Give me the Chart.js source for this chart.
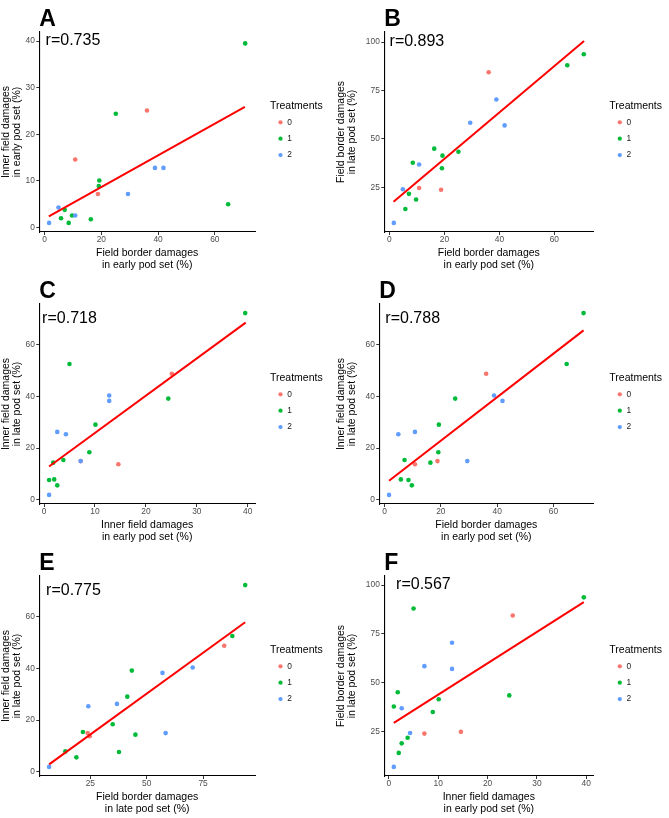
<!DOCTYPE html>
<html>
<head>
<meta charset="utf-8">
<script src="https://cdn.jsdelivr.net/npm/chart.js@4.4.1/dist/chart.umd.min.js"></script>
<style>
html,body{margin:0;padding:0;background:#ffffff;}
#wrap{position:relative;width:669px;height:818px;overflow:hidden;background:#ffffff;}
#wrap canvas{position:absolute;}
</style>
</head>
<body>
<div id="wrap"></div>
<script>
// ---------- DATA ----------
const treatment        = [0, 0, 0, 1, 1, 1, 1, 1, 1, 1, 1, 1, 1, 2, 2, 2, 2, 2, 2];
const fieldBorderEarly = [36.1, 10.8, 18.8, 70.7, 64.7, 25.1, 19.3, 19.1, 16.3, 7.1, 5.8, 8.5, 9.7, 38.9, 41.9, 29.4, 4.9, 10.8, 1.6];
const innerFieldEarly  = [25.1, 14.6, 7.2, 39.5, 5.0, 24.4, 10.1, 8.9, 1.8, 3.8, 2.0, 1.0, 2.6, 12.8, 12.8, 7.2, 4.3, 2.6, 1.0];
const fieldBorderLate  = [84.4, 24.7, 23.8, 93.7, 88.0, 43.4, 41.4, 34.9, 45.0, 21.7, 13.9, 37.7, 18.8, 70.4, 57.0, 58.4, 24.1, 36.8, 6.7];
const innerFieldLate   = [48.8, 13.8, 15.0, 72.3, 52.6, 39.2, 29.1, 18.4, 14.4, 15.4, 7.9, 7.7, 5.6, 40.4, 38.3, 15.0, 25.4, 26.3, 1.9];

const treatmentLevels = ['0', '1', '2'];
const panelLetters    = ['A', 'B', 'C', 'D', 'E', 'F'];
const correlations    = ['r=0.735', 'r=0.893', 'r=0.718', 'r=0.788', 'r=0.775', 'r=0.567'];
const labelPositions  = [[10, 40], [10, 100], [5, 70], [10, 70], [17.5, 70], [7, 100]];
const fitStart        = [[1.5, 2.4], [1.5, 17.6], [1.0, 12.9], [1.6, 7.4], [6.7, 2.9], [1.0, 29.3]];
const fitEnd          = [[70.6, 25.9], [70.8, 100.5], [39.6, 68.6], [70.7, 65.6], [93.7, 57.9], [39.5, 91.3]];
const xTicks          = [[0, 20, 40, 60], [0, 20, 40, 60], [0, 10, 20, 30, 40], [0, 20, 40, 60], [25, 50, 75], [0, 10, 20, 30, 40]];
const yTicks          = [[0, 10, 20, 30, 40], [25, 50, 75, 100], [0, 20, 40, 60], [0, 20, 40, 60], [0, 20, 40, 60], [25, 50, 75, 100]];
const xRanges         = [[-1.86, 74.16], [-1.86, 74.16], [-0.925, 41.425], [-1.86, 74.16], [2.35, 98.05], [-0.925, 41.425]];
const yRanges         = [[-0.95, 41.95], [2.01, 105.19], [-1.62, 75.82], [-1.62, 75.82], [-1.62, 75.82], [2.035, 104.665]];

const titleFBE = ['Field border damages', 'in early pod set (%)'];
const titleIFE = ['Inner field damages', 'in early pod set (%)'];
const titleFBL = ['Field border damages', 'in late pod set (%)'];
const titleIFL = ['Inner field damages', 'in late pod set (%)'];

// panel variable pairs
const panelVars = [
  [fieldBorderEarly, innerFieldEarly, titleFBE, titleIFE],
  [fieldBorderEarly, fieldBorderLate, titleFBE, titleFBL],
  [innerFieldEarly, innerFieldLate, titleIFE, titleIFL],
  [fieldBorderEarly, innerFieldLate, titleFBE, titleIFL],
  [fieldBorderLate, innerFieldLate, titleFBL, titleIFL],
  [innerFieldEarly, fieldBorderLate, titleIFE, titleFBL]
];

// ---------- LAYOUT / STYLE ----------
const colors = ['#F8766D', '#00BA38', '#619CFF'];
const FONT = '"Liberation Sans", Arial, Helvetica, sans-serif';
Chart.defaults.font.family = FONT;
Chart.defaults.color = '#000';

const panelLayout = [
  {left: 0,   top: 0,   w: 335, plotLeft: 39.3, plotRight: 255,   legendLeft: 270},
  {left: 335, top: 0,   w: 334, plotLeft: 49.3, plotRight: 258.3, legendLeft: 274.3},
  {left: 0,   top: 272, w: 335, plotLeft: 39.3, plotRight: 255,   legendLeft: 270},
  {left: 335, top: 272, w: 334, plotLeft: 44.3, plotRight: 258.3, legendLeft: 274.3},
  {left: 0,   top: 544, w: 335, plotLeft: 39.3, plotRight: 255,   legendLeft: 270},
  {left: 335, top: 544, w: 334, plotLeft: 49.3, plotRight: 258.3, legendLeft: 274.3}
];
const PANEL_H = 272, PLOT_TOP = 32, PLOT_BOTTOM = 232;
const LEGEND_W = 58;

// keeps the legend box wide enough for its title (the legend clips to its box)
const legendWidth = {
  id: 'legendWidth',
  beforeLayout(chart) {
    const lg = chart.legend;
    if (lg && !lg._fixedWidth) {
      const orig = lg.fit.bind(lg);
      lg.fit = function () { orig(); this.width = LEGEND_W; };
      lg._fixedWidth = true;
    }
  }
};

const panelText = {
  id: 'panelText',
  afterDatasetsDraw(chart, args, opts) {
    const ctx = chart.ctx;
    ctx.save();
    ctx.fillStyle = '#000';
    ctx.font = 'bold 23px ' + FONT;
    ctx.textAlign = 'left';
    ctx.textBaseline = 'alphabetic';
    ctx.fillText(opts.letter, chart.chartArea.left, 26);
    ctx.font = '16px ' + FONT;
    ctx.textAlign = 'center';
    ctx.textBaseline = 'middle';
    ctx.fillText(opts.label,
      chart.scales.x.getPixelForValue(opts.pos[0]),
      chart.scales.y.getPixelForValue(opts.pos[1]));
    ctx.restore();
  }
};

const wrap = document.getElementById('wrap');

panelLayout.forEach((L, p) => {
  const cv = document.createElement('canvas');
  cv.width = L.w; cv.height = PANEL_H;
  cv.style.left = L.left + 'px'; cv.style.top = L.top + 'px';
  cv.style.width = L.w + 'px'; cv.style.height = PANEL_H + 'px';
  wrap.appendChild(cv);

  const [xv, yv, xTitle, yTitle] = panelVars[p];
  const datasets = treatmentLevels.map((lvl, k) => ({
    label: lvl,
    data: treatment.map((t, i) => t === k ? {x: xv[i], y: yv[i]} : null).filter(d => d),
    backgroundColor: colors[k],
    borderColor: colors[k],
    pointRadius: 2.3,
    pointBorderWidth: 0,
    order: 3 - k
  }));
  datasets.push({
    label: 'fit',
    data: [{x: fitStart[p][0], y: fitStart[p][1]}, {x: fitEnd[p][0], y: fitEnd[p][1]}],
    showLine: true,
    borderColor: '#FF0000',
    backgroundColor: '#FF0000',
    borderWidth: 2,
    pointRadius: 0,
    order: 0
  });

  const xt = xTicks[p], yt = yTicks[p];
  const tickGrid = {display: true, drawOnChartArea: false, drawTicks: true, tickLength: 3, tickColor: '#333333', tickWidth: 1};
  const axisBorder = {display: true, color: '#000000', width: 1.1};

  new Chart(cv, {
    type: 'scatter',
    data: {datasets},
    options: {
      responsive: false,
      animation: false,
      events: [],
      layout: {padding: {top: PLOT_TOP, left: 0, bottom: 0, right: L.w - L.legendLeft - LEGEND_W}},
      scales: {
        x: {
          type: 'linear', position: 'bottom',
          min: xRanges[p][0], max: xRanges[p][1],
          afterBuildTicks: s => { s.ticks = xt.map(v => ({value: v})); },
          afterFit: s => { s.height = PANEL_H - PLOT_BOTTOM; },
          ticks: {font: {size: 8.4}, color: '#4D4D4D', padding: 0, maxRotation: 0, autoSkip: false},
          grid: tickGrid,
          border: axisBorder,
          title: {display: true, text: xTitle, color: '#000', font: {size: 10.5, lineHeight: 1.1}, padding: {top: 0, bottom: 1.4}}
        },
        y: {
          type: 'linear', position: 'left',
          min: yRanges[p][0], max: yRanges[p][1],
          afterBuildTicks: s => { s.ticks = yt.map(v => ({value: v})); },
          afterFit: s => { s.width = L.plotLeft; },
          ticks: {font: {size: 8.4}, color: '#4D4D4D', padding: 1.5, autoSkip: false},
          grid: tickGrid,
          border: axisBorder,
          title: {display: true, text: yTitle, color: '#000', font: {size: 10.5, lineHeight: 1.1}, padding: {top: 0, bottom: 0}}
        },
        gap: {
          type: 'linear', position: 'right', display: true,
          afterFit: s => { s.width = L.legendLeft - L.plotRight; },
          grid: {display: false},
          ticks: {display: false},
          border: {display: false},
          title: {display: false}
        }
      },
      plugins: {
        tooltip: {enabled: false},
        title: {display: false},
        legend: {
          display: true,
          position: 'right',
          align: 'center',
          fullSize: false,
          title: {display: true, text: 'Treatments', position: 'start', color: '#000',
                  font: {size: 10.5, lineHeight: 1}, padding: {top: 3.7, bottom: -0.8}},
          labels: {
            usePointStyle: true, pointStyle: 'circle',
            boxWidth: 5, boxHeight: 3, padding: 8,
            color: '#1a1a1a', font: {size: 8.4},
            filter: item => item.text !== 'fit',
            sort: (a, b) => a.datasetIndex - b.datasetIndex
          }
        },
        panelText: {letter: panelLetters[p], label: correlations[p], pos: labelPositions[p]}
      }
    },
    plugins: [legendWidth, panelText]
  });
});
</script>
</body>
</html>
